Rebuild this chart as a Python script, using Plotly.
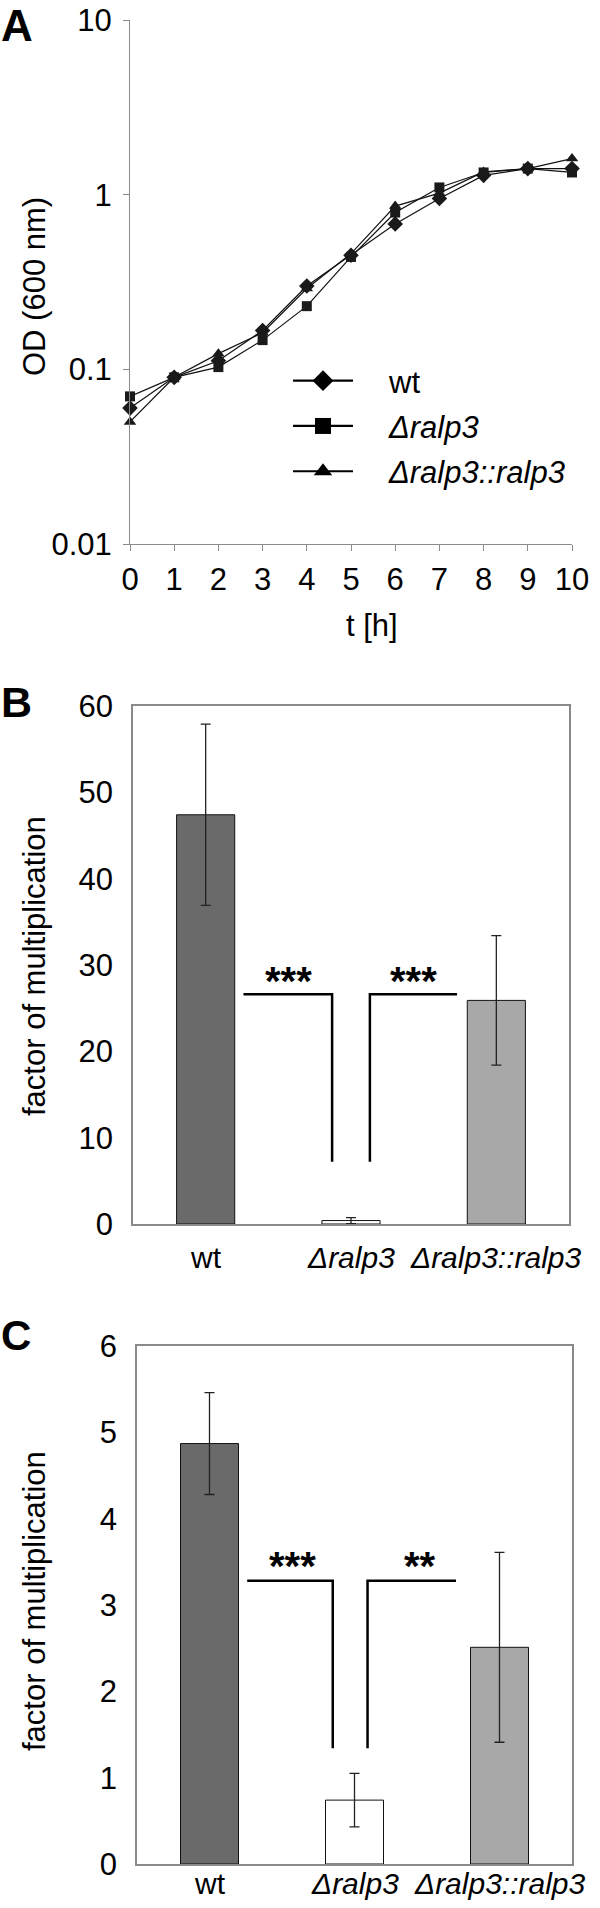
import plotly.graph_objects as go

# ---------------- data ----------------
time_h = [0, 1, 2, 3, 4, 5, 6, 7, 8, 9, 10]
od_wt = [0.060, 0.090, 0.112, 0.167, 0.30, 0.45, 0.68, 0.95, 1.29, 1.41, 1.41]
od_dralp3 = [0.070, 0.090, 0.103, 0.147, 0.23, 0.44, 0.79, 1.10, 1.34, 1.41, 1.34]
od_comp = [0.050, 0.090, 0.123, 0.162, 0.29, 0.46, 0.86, 1.02, 1.35, 1.41, 1.61]

strains = ["wt", "<i>Δralp3</i>", "<i>Δralp3::ralp3</i>"]
strain_pos = [0, 1, 2]
bar_colors = ["#6a6a6a", "#ffffff", "#a8a8a8"]

mult_B = [47.4, 0.4, 25.9]
err_B = [10.5, 0.35, 7.5]
mult_C = [4.87, 0.74, 2.51]
err_C = [0.59, 0.31, 1.10]

# significance brackets (x in strain index units, y in data units)
sigB_left_x = [0.26, 0.87, 0.87]
sigB_right_x = [1.73, 1.13, 1.13]
sigB_y = [26.6, 26.6, 7.2]
sigB_labels = ["***", "***"]
sigB_label_x = [0.57, 1.43]
sigB_label_y = 28.2

sigC_left_x = [0.26, 0.85, 0.85]
sigC_right_x = [1.70, 1.09, 1.09]
sigC_y = [3.28, 3.28, 1.34]
sigC_labels = ["***", "**"]
sigC_label_x = [0.57, 1.45]
sigC_label_y = 3.45

FONT = "Liberation Sans, Arial, sans-serif"
AX_GRAY = "#8a8a8a"
TICK_SIZE = 31
CAT_SIZE = 30

H = 1908.0
W = 600.0


def py(px):
    return 1 - px / H


def pxx(px):
    return px / W


fig = go.Figure()

# ---------------- panel A ----------------
series = [
    ("wt", od_wt, "diamond", 12),
    ("<i>Δralp3</i>", od_dralp3, "square", 10),
    ("<i>Δralp3::ralp3</i>", od_comp, "triangle-up", 11),
]
for name, vals, sym, sz in series:
    fig.add_trace(go.Scatter(
        x=time_h, y=vals, name=name, mode="lines+markers",
        line=dict(color="#111111", width=1.2),
        marker=dict(symbol=sym, size=sz, color="#1a1a1a"),
        cliponaxis=False, xaxis="x", yaxis="y", showlegend=False,
    ))
# legend entries (larger symbols, as in the original legend)
for name, vals, sym, sz in series:
    fig.add_trace(go.Scatter(
        x=[None], y=[None], name="\u2003" + name, mode="lines+markers",
        line=dict(color="#000000", width=2.2),
        marker=dict(symbol=sym, size=16, color="#000000"),
        xaxis="x", yaxis="y", showlegend=True, legendgroup=name,
    ))

# ---------------- panel B ----------------
fig.add_trace(go.Bar(
    x=strain_pos, y=mult_B, width=0.4,
    marker=dict(color=bar_colors, line=dict(color="#111111", width=1)),
    error_y=dict(type="data", array=err_B, color="#222222", thickness=1.3, width=5),
    xaxis="x2", yaxis="y2", showlegend=False,
))
for bx in (sigB_left_x, sigB_right_x):
    fig.add_trace(go.Scatter(x=bx, y=sigB_y, mode="lines",
                             line=dict(color="#000000", width=2.5),
                             xaxis="x2", yaxis="y2", showlegend=False))

# ---------------- panel C ----------------
fig.add_trace(go.Bar(
    x=strain_pos, y=mult_C, width=0.4,
    marker=dict(color=bar_colors, line=dict(color="#111111", width=1)),
    error_y=dict(type="data", array=err_C, color="#222222", thickness=1.3, width=5),
    xaxis="x3", yaxis="y3", showlegend=False,
))
for cx in (sigC_left_x, sigC_right_x):
    fig.add_trace(go.Scatter(x=cx, y=sigC_y, mode="lines",
                             line=dict(color="#000000", width=2.5),
                             xaxis="x3", yaxis="y3", showlegend=False))

annotations = []
for lbl, lx in zip(sigB_labels, sigB_label_x):
    annotations.append(dict(text="<b>%s</b>" % lbl, x=lx, y=sigB_label_y, xref="x2", yref="y2",
                            showarrow=False, font=dict(size=40, family=FONT, color="#000")))
for lbl, lx in zip(sigC_labels, sigC_label_x):
    annotations.append(dict(text="<b>%s</b>" % lbl, x=lx, y=sigC_label_y, xref="x3", yref="y3",
                            showarrow=False, font=dict(size=40, family=FONT, color="#000")))

# category labels under the bar panels
for xref, cy in (("x2", 1257), ("x3", 1883)):
    for pos, lbl in zip(strain_pos, strains):
        annotations.append(dict(text=lbl, x=pos, y=py(cy), xref=xref, yref="paper",
                                showarrow=False, xanchor="center", yanchor="middle",
                                font=dict(size=CAT_SIZE, family=FONT, color="#000")))

# panel letters
annotations.append(dict(text="<b>A</b>", x=0.0, y=1.0, xref="paper", yref="paper",
                        xanchor="left", yanchor="top", showarrow=False, borderpad=0,
                        font=dict(size=44, family=FONT, color="#000")))
for letter, cy, fs in (("B", 702, 43), ("C", 1335, 42)):
    annotations.append(dict(text="<b>%s</b>" % letter, x=0.0, y=py(cy), xref="paper", yref="paper",
                            xanchor="left", yanchor="middle", showarrow=False, borderpad=0,
                            font=dict(size=fs, family=FONT, color="#000")))

# axis titles
annotations.append(dict(text="OD (600 nm)", x=pxx(34), y=py(287), xref="paper", yref="paper",
                        textangle=-90, showarrow=False, xanchor="center", yanchor="middle",
                        font=dict(size=31, family=FONT, color="#000")))
annotations.append(dict(text="t [h]", x=pxx(372), y=py(625), xref="paper", yref="paper",
                        showarrow=False, xanchor="center", yanchor="middle",
                        font=dict(size=31, family=FONT, color="#000")))
for cy in (966, 1601):
    annotations.append(dict(text="factor of multiplication", x=pxx(34), y=py(cy), xref="paper", yref="paper",
                            textangle=-90, showarrow=False, xanchor="center", yanchor="middle",
                            font=dict(size=31, family=FONT, color="#000")))

tickfont = dict(size=TICK_SIZE, family=FONT, color="#000")
common = dict(showgrid=False, zeroline=False, automargin=False, tickfont=tickfont)

fig.update_layout(
    width=600, height=1908,
    margin=dict(l=0, r=0, t=0, b=0, autoexpand=False),
    paper_bgcolor="white", plot_bgcolor="white",
    font=dict(family=FONT, color="#000"),
    annotations=annotations,
    showlegend=True,
    legend=dict(x=pxx(288), y=py(354), xanchor="left", yanchor="top",
                bgcolor="rgba(0,0,0,0)", font=dict(size=31, family=FONT, color="#000"),
                itemwidth=60, tracegroupgap=2),
    xaxis=dict(domain=[pxx(130), pxx(572)], anchor="y", range=[0, 10],
               tickvals=time_h, ticks="outside", ticklen=6, tickcolor=AX_GRAY, tickangle=0,
               showline=True, linecolor=AX_GRAY, linewidth=1,
               ticklabelstandoff=2, **common),
    yaxis=dict(domain=[py(544), py(20)], anchor="x", type="log", range=[-2, 1],
               tickvals=[0.01, 0.1, 1, 10], ticktext=["0.01", "0.1", "1", "10"],
               ticks="outside", ticklen=6, tickcolor=AX_GRAY,
               showline=True, linecolor=AX_GRAY, linewidth=1,
               ticklabelstandoff=5, **common),
    xaxis2=dict(domain=[pxx(133), pxx(569)], anchor="y2", range=[-0.5, 2.5],
                tickvals=strain_pos, showticklabels=False, ticks="",
                showline=True, mirror=True, linecolor=AX_GRAY, linewidth=1.5, **common),
    yaxis2=dict(domain=[py(1224), py(706)], anchor="x2", range=[0, 60], dtick=10, ticks="",
                showline=True, mirror=True, linecolor=AX_GRAY, linewidth=1.5,
                ticklabelstandoff=12, **common),
    xaxis3=dict(domain=[pxx(137), pxx(572)], anchor="y3", range=[-0.5, 2.5],
                tickvals=strain_pos, showticklabels=False, ticks="",
                showline=True, mirror=True, linecolor=AX_GRAY, linewidth=1.5, **common),
    yaxis3=dict(domain=[py(1864), py(1346)], anchor="x3", range=[0, 6], dtick=1, ticks="",
                showline=True, mirror=True, linecolor=AX_GRAY, linewidth=1.5,
                ticklabelstandoff=12, **common),
)

fig.write_html("out.html", config={"displayModeBar": False},
               post_script="document.body.style.margin='0';")
